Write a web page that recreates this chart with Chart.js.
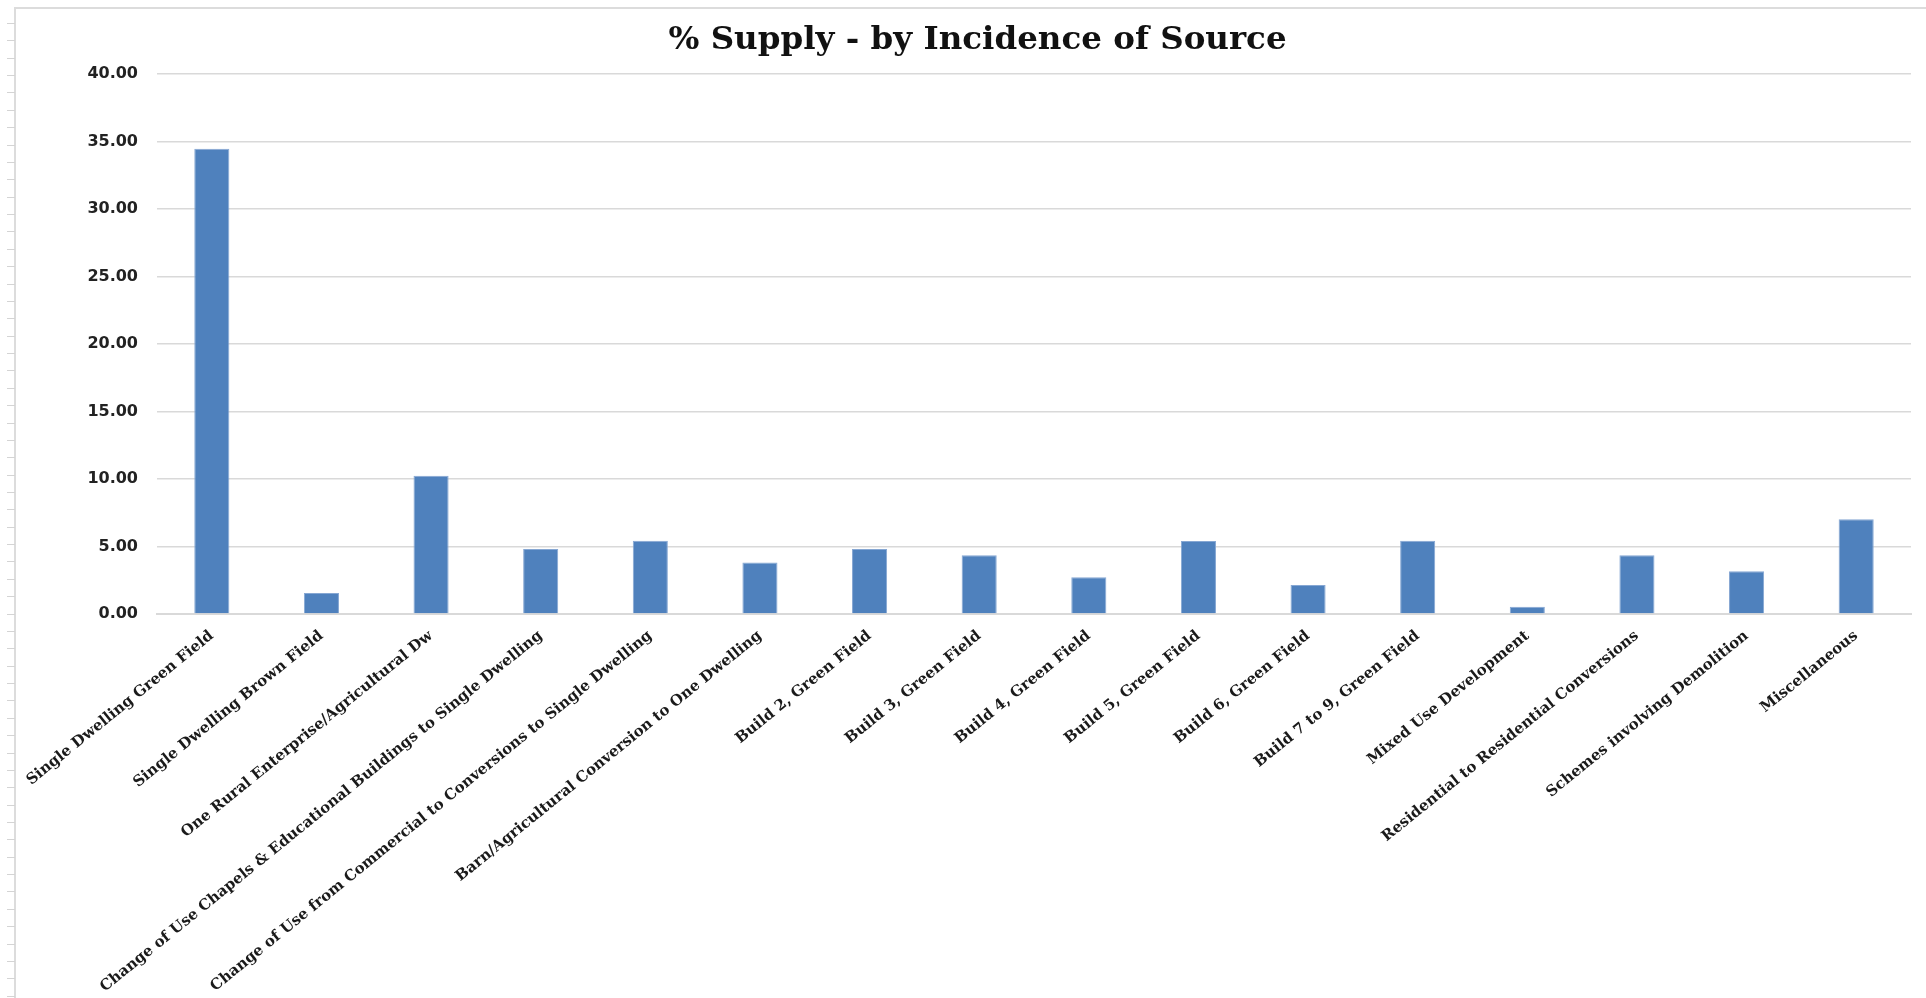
<!DOCTYPE html>
<html>
<head>
<meta charset="utf-8">
<script src="https://cdn.jsdelivr.net/npm/chart.js@4.4.1/dist/chart.umd.min.js"></script>
<style>
  html, body { margin: 0; padding: 0; background: #fff; }
  #wrap { position: relative; width: 1926px; height: 998px; overflow: hidden; }
  /* sheet frame + ruler ticks down the left edge */
  #frameTop { position: absolute; left: 15px; top: 7px; width: 1911px; height: 2px; background: #dcdcdc; }
  #frameLeft { position: absolute; left: 14px; top: 7px; width: 2px; height: 991px; background: #dcdcdc; }
  #ruler { position: absolute; left: 7px; top: 23px; width: 8px; height: 975px;
    background: repeating-linear-gradient(to bottom, #d4d4d4 0px, #d4d4d4 1px, transparent 1px, transparent 17.37px); }
  #chartBox { position: absolute; left: 0; top: 0; width: 1926px; height: 998px; }
</style>
</head>
<body>
<div id="wrap">
  <div id="frameTop"></div>
  <div id="frameLeft"></div>
  <div id="ruler"></div>
  <div id="chartBox"><canvas id="myChart"></canvas></div>
</div>
<script>
// categories along the x axis
let categories = [
    'Single Dwelling Green Field',
    'Single Dwelling Brown Field',
    'One Rural Enterprise/Agricultural Dw',
    'Change of Use Chapels & Educational Buildings to Single Dwelling',
    'Change of Use from Commercial to Conversions to Single Dwelling',
    'Barn/Agricultural Conversion to One Dwelling',
    'Build 2, Green Field',
    'Build 3, Green Field',
    'Build 4, Green Field',
    'Build 5, Green Field',
    'Build 6, Green Field',
    'Build 7 to 9, Green Field',
    'Mixed Use Development',
    'Residential to Residential Conversions',
    'Schemes involving Demolition',
    'Miscellaneous'
];
// % supply for each category
let supply = [34.46, 1.55, 10.25, 4.81, 5.43, 3.81, 4.81, 4.35, 2.73, 5.41, 2.15, 5.43, 0.54, 4.35, 3.17, 7.01];
// y axis ticks
let yTicks = [0, 5, 10, 15, 20, 25, 30, 35, 40];

let ctx = document.getElementById('myChart').getContext('2d');
let chart = new Chart(ctx, {
    type: 'bar',
    data: {
        labels: categories,
        datasets: [{
            label: '% Supply',
            data: supply,
            backgroundColor: '#4F81BD',
            borderColor: '#86a7d3',
            borderWidth: 1,
            categoryPercentage: 1,
            barPercentage: 0.32
        }]
    },
    options: {
        responsive: true,
        maintainAspectRatio: false,
        animation: false,
        layout: { padding: { left: 44, right: 15, top: 0, bottom: 0 } },
        plugins: {
            legend: { display: false },
            tooltip: { enabled: false },
            title: {
                display: true,
                text: '% Supply - by Incidence of Source',
                color: '#111',
                font: { family: 'DejaVu Serif', size: 32.5, weight: 'bold' },
                padding: { top: 21, bottom: 14 }
            }
        },
        scales: {
            y: {
                min: 0,
                max: 40,
                afterBuildTicks: function(scale){
                    scale.ticks = yTicks.map(v => ({ value: v }));
                },
                afterFit: function(scale){ scale.width = 113; },
                border: { display: false },
                grid: { color: '#d9d9d9', lineWidth: 1.5, drawTicks: false },
                ticks: {
                    padding: 19,
                    color: '#222',
                    font: { family: 'DejaVu Sans', size: 16, weight: 'bold' },
                    callback: function(v){ return Number(v).toFixed(2); }
                }
            },
            x: {
                afterFit: function(scale){ scale.height = 384; },
                border: { display: true, color: '#d9d9d9', width: 2 },
                grid: { display: false, drawTicks: false },
                ticks: {
                    autoSkip: false,
                    minRotation: 39,
                    maxRotation: 39,
                    padding: 13,
                    color: '#1a1a1a',
                    font: { family: 'DejaVu Serif', size: 15, weight: 'bold' }
                }
            }
        }
    }
});
</script>
</body>
</html>
